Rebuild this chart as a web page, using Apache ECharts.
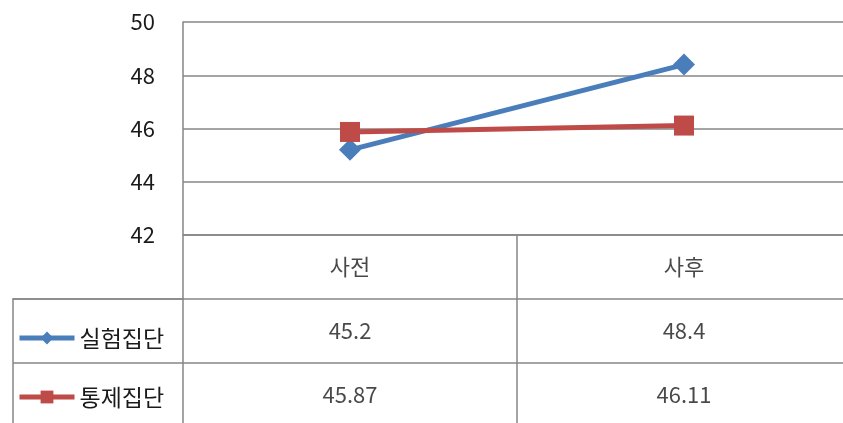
<!DOCTYPE html>
<html>
<head>
<meta charset="utf-8">
<script src="https://cdn.jsdelivr.net/npm/echarts@6/dist/echarts.min.js"></script>
<style>
    html, body { margin: 0; padding: 0; background: #fff; }
    #chart { width: 843px; height: 423px; }
</style>
</head>
<body>
<div id="chart"></div>
<script>
//데이터
var categories = ['사전', '사후'];
var seriesNames = ['실험집단', '통제집단'];
var expValues = [45.2, 48.4];
var ctrlValues = [45.87, 46.11];
var yTicks = [42, 44, 46, 48, 50];

var gridColor = '#868686';
var font = '"Noto Sans CJK KR", "Noto Sans", sans-serif';

//표 안의 글자 (카테고리 행 + 값 행)
function buildTableData() {
    var rows = [];
    for (var i = 0; i < categories.length; i++) {
        rows.push([categories[i], 'head', categories[i]]);
        rows.push([categories[i], seriesNames[0], String(expValues[i])]);
        rows.push([categories[i], seriesNames[1], String(ctrlValues[i])]);
    }
    return rows;
}

var myChart = echarts.init(document.getElementById('chart'));

myChart.setOption({
    backgroundColor: '#fff',
    animation: false,
    textStyle: { fontFamily: font },
    grid: [
        // 오른쪽 끝은 화면 밖으로 잘림
        { left: 183, top: 22, width: 668, height: 213, outerBoundsMode: 'none' },   // 꺾은선 영역
        { left: 183, top: 235, width: 668, height: 192, outerBoundsMode: 'none' },  // 데이터 표
        { left: 13, top: 299, width: 170, height: 128, outerBoundsMode: 'none' }    // 범례 칸
    ],
    legend: {
        data: seriesNames,
        orient: 'vertical',
        left: 12,
        top: 319,
        itemGap: 31,
        itemWidth: 55,
        itemHeight: 16,
        lineStyle: { width: 5 },
        textStyle: { fontSize: 23, color: '#1a1a1a', lineHeight: 28, fontFamily: font }
    },
    xAxis: [
        {
            gridIndex: 0, type: 'category', data: categories, boundaryGap: true,
            axisLine: { show: false }, axisTick: { show: false }, axisLabel: { show: false }
        },
        {
            gridIndex: 1, type: 'category', data: categories, boundaryGap: true,
            axisLine: { show: false }, axisTick: { show: false }, axisLabel: { show: false },
            splitLine: { show: true, interval: 0, lineStyle: { color: gridColor, width: 1.5 } }
        },
        {
            gridIndex: 2, type: 'category', data: [''], position: 'top',
            axisLine: { show: true, lineStyle: { color: gridColor, width: 1.5 } },
            axisTick: { show: false }, axisLabel: { show: false }
        }
    ],
    yAxis: [
        {
            gridIndex: 0, type: 'value', min: yTicks[0], max: yTicks[yTicks.length - 1], interval: 2,
            axisLine: { show: true, lineStyle: { color: gridColor, width: 1.5 } },
            axisTick: { show: false },
            axisLabel: { fontSize: 22, color: '#1a1a1a', margin: 28 },
            splitLine: { show: true, lineStyle: { color: gridColor, width: 1.5 } }
        },
        {
            gridIndex: 1, type: 'category', data: ['head'].concat(seriesNames), inverse: true,
            axisLine: { show: false }, axisTick: { show: false }, axisLabel: { show: false },
            splitLine: { show: true, interval: 0, lineStyle: { color: gridColor, width: 1.5 } }
        },
        {
            gridIndex: 2, type: 'category', data: seriesNames, inverse: true,
            axisLine: { show: true, lineStyle: { color: gridColor, width: 1.5 } },
            axisTick: { show: false }, axisLabel: { show: false },
            splitLine: { show: true, interval: 0, lineStyle: { color: gridColor, width: 1.5 } }
        }
    ],
    series: [
        {
            name: seriesNames[0], type: 'line', xAxisIndex: 0, yAxisIndex: 0,
            data: expValues,
            symbol: 'diamond', symbolSize: 22,
            itemStyle: { color: '#4A7EBB' },
            lineStyle: { color: '#4A7EBB', width: 5 }
        },
        {
            name: seriesNames[1], type: 'line', xAxisIndex: 0, yAxisIndex: 0,
            data: ctrlValues,
            symbol: 'rect', symbolSize: 20,
            itemStyle: { color: '#BE4B48' },
            lineStyle: { color: '#BE4B48', width: 5 }
        },
        {
            name: 'table', type: 'scatter', xAxisIndex: 1, yAxisIndex: 1,
            data: buildTableData(),
            symbolSize: 0,
            label: {
                show: true, position: 'inside',
                fontSize: 22, color: '#1a1a1a', fontFamily: font,
                formatter: function (p) { return p.data[2]; }
            },
            silent: true
        }
    ]
});
</script>
</body>
</html>
